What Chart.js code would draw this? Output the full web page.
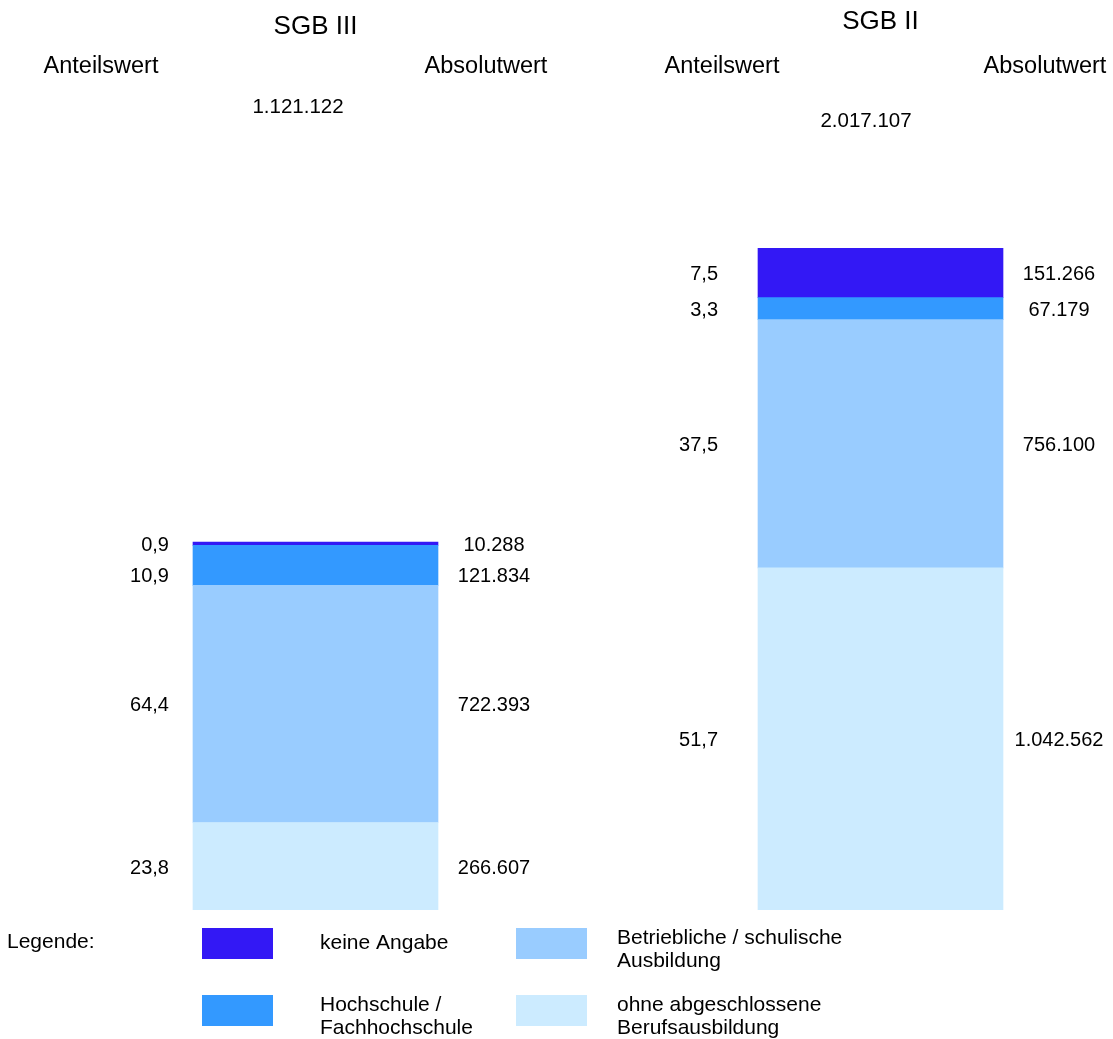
<!DOCTYPE html>
<html lang="de">
<head>
<meta charset="utf-8">
<title>Arbeitslose nach Berufsausbildung</title>
<script src="https://cdn.jsdelivr.net/npm/chart.js@4/dist/chart.umd.min.js"></script>
<style>
  body { margin: 0; background: #fff; }
</style>
</head>
<body>
<canvas id="myChart" width="1113" height="1039"></canvas>
<script>
// Rechtskreise (one stacked bar each)
const groups = ['SGB III', 'SGB II'];

// Berufsausbildung, from bottom of the stack to the top
const categories = [
    ['ohne abgeschlossene', 'Berufsausbildung'],
    ['Betriebliche / schulische', 'Ausbildung'],
    ['Hochschule /', 'Fachhochschule'],
    ['keine Angabe']
];
const ohneAbschluss = [266607, 1042562];
const betrieblich = [722393, 756100];
const hochschule = [121834, 67179];
const keineAngabe = [10288, 151266];

const colors = ['#CCEBFF', '#99CCFF', '#3399FF', '#3318F5'];

const FONT = '"Liberation Sans", Arial, sans-serif';

const series = [ohneAbschluss, betrieblich, hochschule, keineAngabe];
const totals = groups.map((g, i) => series.reduce((s, arr) => s + arr[i], 0));

// 1234567 -> "1.234.567"
function fmtAbs(n) {
    return String(n).replace(/\B(?=(\d{3})+(?!\d))/g, '.');
}
// 7.4987 -> "7,5"
function fmtPct(n) {
    return n.toFixed(1).replace('.', ',');
}

// per-bar text placement
const headerLayout = [
    { titleY: 27, subY: 67, totalY: 107, anteilX: 101, absolutX: 486, totalX: 298, pctGap: 24 },
    { titleY: 22, subY: 67, totalY: 121, anteilX: 722, absolutX: 1045, totalX: 866, pctGap: 40 }
];

const labelPlugin = {
    id: 'barLabels',
    afterDatasetsDraw(chart) {
        const ctx = chart.ctx;
        ctx.save();
        ctx.fillStyle = '#000';
        ctx.textBaseline = 'middle';

        groups.forEach((g, i) => {
            const h = headerLayout[i];
            const top = chart.getDatasetMeta(series.length - 1).data[i];
            const cx = top.x;

            ctx.textAlign = 'center';
            ctx.font = '26px ' + FONT;
            ctx.fillText(g, cx, h.titleY);
            ctx.font = '23.5px ' + FONT;
            ctx.fillText('Anteilswert', h.anteilX, h.subY);
            ctx.fillText('Absolutwert', h.absolutX, h.subY);
            ctx.font = '20.5px ' + FONT;
            ctx.fillText(fmtAbs(totals[i]), h.totalX, h.totalY);

            // segment labels, top segment first, pushed apart when too close
            ctx.font = '20px ' + FONT;
            let prevY = -Infinity;
            for (let d = series.length - 1; d >= 0; d--) {
                const bar = chart.getDatasetMeta(d).data[i];
                const v = series[d][i];
                let y = (bar.y + bar.base) / 2 + 2;
                y = Math.max(y, prevY + 31);
                prevY = y;
                const left = bar.x - bar.width / 2;
                const right = bar.x + bar.width / 2;
                ctx.textAlign = 'right';
                ctx.fillText(fmtPct(v / totals[i] * 100), left - h.pctGap, y);
                ctx.textAlign = 'center';
                ctx.fillText(fmtAbs(v), right + 56, y);
            }
        });
        ctx.restore();
    }
};

const legendPlugin = {
    id: 'boxLegend',
    afterDraw(chart) {
        const ctx = chart.ctx;
        ctx.save();
        ctx.fillStyle = '#000';
        ctx.textBaseline = 'middle';
        ctx.textAlign = 'left';
        ctx.font = '21px ' + FONT;
        ctx.fillText('Legende:', 7, 942);

        // top of stack first, filled column by column
        const order = [3, 2, 1, 0];
        const textX = [320, 617];
        order.forEach((d, k) => {
            const col = Math.floor(k / 2);
            const row = k % 2;
            const bx = 202 + col * 314;
            const by = 928 + row * 67;
            ctx.fillStyle = colors[d];
            ctx.fillRect(bx, by, 71, 31);
            ctx.fillStyle = '#000';
            const lines = categories[d];
            const ty = lines.length === 1 ? by + 15 : by + 10;
            lines.forEach((line, j) => ctx.fillText(line, textX[col], ty + j * 23));
        });
        ctx.restore();
    }
};

const ctx = document.getElementById('myChart');

new Chart(ctx, {
    type: 'bar',
    data: {
        datasets: series.map((arr, d) => ({
            label: categories[d].join(' '),
            data: arr.map((v, i) => ({ x: i, y: v })),
            backgroundColor: colors[d],
            borderWidth: 0,
            barThickness: 245
        }))
    },
    options: {
        responsive: false,
        animation: false,
        layout: {
            padding: { top: 248, bottom: 129, left: 0, right: 0 }
        },
        scales: {
            x: {
                type: 'linear',
                stacked: true,
                offset: false,
                min: -0.5584,
                max: 1.4115,
                display: false
            },
            y: {
                stacked: true,
                min: 0,
                max: Math.max(...totals),
                display: false
            }
        },
        plugins: {
            legend: { display: false },
            tooltip: { enabled: false }
        }
    },
    plugins: [labelPlugin, legendPlugin]
});
</script>
</body>
</html>
